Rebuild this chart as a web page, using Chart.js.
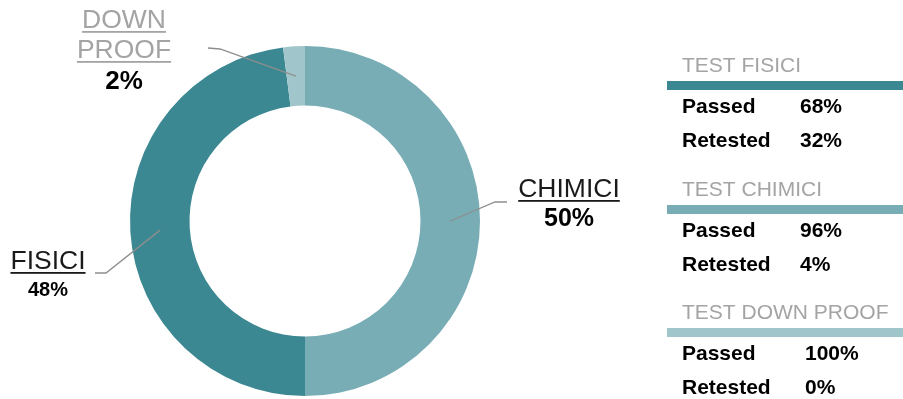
<!DOCTYPE html>
<html>
<head>
<meta charset="utf-8">
<script src="https://cdn.jsdelivr.net/npm/chart.js@4/dist/chart.umd.min.js"></script>
<style>
  html, body { margin: 0; padding: 0; background: #fff; }
  #wrap { position: relative; width: 903px; height: 399px; }
</style>
</head>
<body>
<div id="wrap"><canvas id="donut"></canvas></div>
<script>
// doughnut slices (clockwise from 12 o'clock)
const categories = ["CHIMICI", "FISICI", "DOWN PROOF"];
const shares = [50, 48, 2];

// side panel
const panelTitles = ["TEST FISICI", "TEST CHIMICI", "TEST DOWN PROOF"];
const passedPct = [68, 96, 100];
const retestedPct = [32, 4, 0];

const COLORS = {
  "CHIMICI": "rgb(120, 173, 182)",
  "FISICI": "rgb(59, 136, 146)",
  "DOWN PROOF": "rgb(160, 198, 203)"
};
const panelColors = [COLORS["FISICI"], COLORS["CHIMICI"], COLORS["DOWN PROOF"]];

const FONT = '"Liberation Sans", Arial, sans-serif';
const GREY_TEXT = "#a4a4a4";
const LEADER = "#8e8e8e";

// where each callout sits; lines are the stacked name lines, pct goes below
const callouts = {
  "CHIMICI": { cx: 569, lines: [{ text: "CHIMICI", y: 197 }], ink: "#1a1a1a",
               pctY: 226, pctSize: 25, elbow: [[507, 202], [495, 202]] },
  "FISICI": { cx: 48, lines: [{ text: "FISICI", y: 269 }], ink: "#1a1a1a",
              pctY: 296, pctSize: 20, elbow: [[95, 273], [106, 273]] },
  "DOWN PROOF": { cx: 124, lines: [{ text: "DOWN", y: 28 }, { text: "PROOF", y: 58 }], ink: GREY_TEXT,
                  pctY: 89, pctSize: 26, elbow: [[208, 48], [220, 49]] }
};

const calloutPlugin = {
  id: "callouts",
  afterDraw(chart) {
    const ctx = chart.ctx;
    const arcs = chart.getDatasetMeta(0).data;
    ctx.save();

    categories.forEach((name, i) => {
      const c = callouts[name];
      const mid = arcs[i].getCenterPoint();

      // leader line into the middle of the ring
      ctx.strokeStyle = LEADER;
      ctx.lineWidth = 1.3;
      ctx.beginPath();
      ctx.moveTo(c.elbow[0][0], c.elbow[0][1]);
      ctx.lineTo(c.elbow[1][0], c.elbow[1][1]);
      ctx.lineTo(mid.x, mid.y);
      ctx.stroke();

      // underlined name
      ctx.font = `26.5px ${FONT}`;
      ctx.textAlign = "center";
      ctx.textBaseline = "alphabetic";
      ctx.fillStyle = c.ink;
      c.lines.forEach(l => {
        ctx.fillText(l.text, c.cx, l.y);
        const w = ctx.measureText(l.text).width;
        ctx.fillRect(c.cx - w / 2, l.y + 3, w, 1.8);
      });

      // percentage
      ctx.font = `bold ${c.pctSize}px ${FONT}`;
      ctx.fillStyle = "#000";
      ctx.fillText(shares[i] + "%", c.cx, c.pctY);
    });

    // right-hand summary blocks
    const tops = [72, 196, 319];
    ctx.textAlign = "left";
    panelTitles.forEach((t, i) => {
      const y0 = tops[i];
      ctx.font = `21px ${FONT}`;
      ctx.fillStyle = GREY_TEXT;
      ctx.fillText(t, 682, y0);

      ctx.fillStyle = panelColors[i];
      ctx.fillRect(667, y0 + 9, 236, 9);

      const valX = passedPct[i] >= 100 ? 805 : 800;
      ctx.font = `bold 21px ${FONT}`;
      ctx.fillStyle = "#000";
      ctx.fillText("Passed", 682, y0 + 41);
      ctx.fillText(passedPct[i] + "%", valX, y0 + 41);
      ctx.fillText("Retested", 682, y0 + 75);
      ctx.fillText(retestedPct[i] + "%", valX, y0 + 75);
    });

    ctx.restore();
  }
};

new Chart(document.getElementById("donut"), {
  type: "doughnut",
  data: {
    labels: categories,
    datasets: [{
      data: shares,
      backgroundColor: categories.map(c => COLORS[c]),
      borderWidth: 0,
      hoverOffset: 0
    }]
  },
  options: {
    responsive: true,
    maintainAspectRatio: false,
    animation: false,
    cutout: "66%",
    layout: { padding: { left: 130, right: 423, top: 46, bottom: 3 } },
    plugins: {
      legend: { display: false },
      tooltip: { enabled: false }
    }
  },
  plugins: [calloutPlugin]
});
</script>
</body>
</html>
